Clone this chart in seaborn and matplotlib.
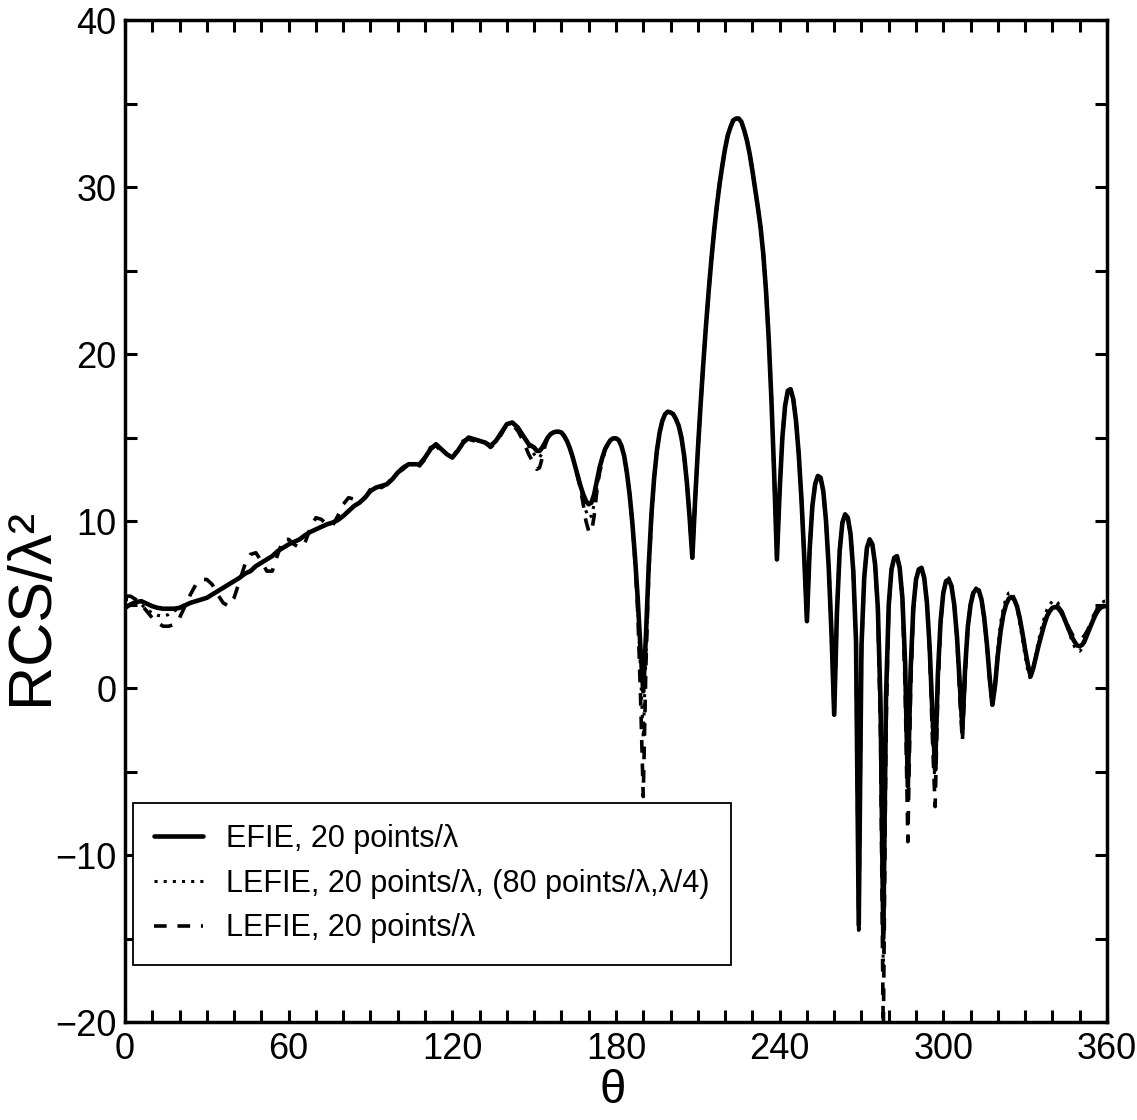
import matplotlib
matplotlib.use("Agg")
import matplotlib.pyplot as plt
import matplotlib.font_manager as fm
from matplotlib.ticker import MultipleLocator
import seaborn as sns

# ---------------- data ----------------
# sampling angles (deg): every 2 deg up to 148, then every 1 deg
theta = list(range(0, 150, 2)) + list(range(150, 361))

efie_20 = [
    # 0..148 step 2
    4.8, 5.0, 5.15, 5.2, 5.05, 4.9, 4.8, 4.75, 4.75, 4.75,
    4.8, 4.95, 5.1, 5.2, 5.3, 5.4, 5.6, 5.8, 6.0, 6.2,
    6.4, 6.6, 6.85, 7.0, 7.3, 7.5, 7.7, 7.9, 8.2, 8.4,
    8.6, 8.75, 8.9, 9.15, 9.35, 9.5, 9.65, 9.8, 9.9, 10.05,
    10.3, 10.6, 10.9, 11.1, 11.4, 11.8, 12.0, 12.1, 12.2, 12.5,
    12.9, 13.2, 13.4, 13.4, 13.4, 13.8, 14.3, 14.6, 14.3, 14.0,
    13.8, 14.2, 14.7, 15.0, 14.9, 14.8, 14.7, 14.5, 14.8, 15.3,
    15.8, 15.9, 15.6, 15.1, 14.6,
    # 150..360 step 1
    14.4, 14.2, 14.2, 14.4, 14.7, 15.0, 15.2, 15.3, 15.35, 15.35,
    15.3, 15.1, 14.8, 14.4, 13.9, 13.3, 12.7, 12.1, 11.6, 11.2,
    11.0, 11.1, 11.6, 12.4, 13.2, 13.8, 14.3, 14.6, 14.85, 14.95,
    14.95, 14.85, 14.5, 13.9, 12.9, 11.6, 9.9, 7.8, 5.3, 2.3,
    -0.2, 3.2, 7.3, 10.4, 12.6, 14.2, 15.3, 16.0, 16.4, 16.55,
    16.5, 16.4, 16.1, 15.7, 15.0, 13.9, 12.3, 10.2, 7.8, 11.2,
    14.2, 16.9, 19.4, 21.7, 23.8, 25.7, 27.4, 28.9, 30.2, 31.3,
    32.3, 33.1, 33.6, 34.0, 34.1, 34.1, 33.9, 33.4, 32.8, 32.0,
    31.0, 29.9, 28.8, 27.6, 26.0, 23.8, 20.9, 17.2, 12.8, 7.7,
    11.8, 15.0, 16.9, 17.8, 17.9, 17.3, 16.0, 14.0, 11.3, 7.9,
    4.0, 8.3, 10.9, 12.2, 12.7, 12.6, 11.8, 10.0, 7.2, 3.3,
    -1.6, 4.5, 8.2, 9.9, 10.4, 10.2, 9.2, 7.0, 2.8, -14.2,
    2.5, 6.6, 8.4, 8.9, 8.6, 7.4, 4.8, -1.0, -15.0, -0.5,
    5.0, 7.1, 7.8, 7.9, 7.2, 5.4, 1.5, -5.9, 1.0, 4.8,
    6.5, 7.1, 7.2, 6.6, 5.1, 2.4, -1.5, -4.9, 0.8, 4.0,
    5.7, 6.4, 6.5, 6.1, 5.0, 3.1, 0.3, -2.4, 1.2, 3.7,
    5.0, 5.7, 5.9, 5.85, 5.3, 4.2, 2.6, 0.6, -1.0, 0.2,
    2.0, 3.4, 4.4, 5.0, 5.35, 5.45, 5.3, 4.9, 4.2, 3.3,
    2.3, 1.4, 0.7, 1.2, 1.9, 2.6, 3.2, 3.8, 4.3, 4.6,
    4.8, 4.85, 4.8, 4.6, 4.3, 3.9, 3.5, 3.1, 2.8, 2.55,
    2.5, 2.6, 2.9, 3.3, 3.7, 4.1, 4.45, 4.7, 4.85, 4.9,
    4.9,
]

lefie_80 = [
    5.3, 5.3, 5.2, 5.0, 4.7, 4.5, 4.35, 4.3, 4.4, 4.6,
    4.8, 5.0, 5.1, 5.2, 5.3, 5.4, 5.6, 5.8, 6.0, 6.2,
    6.4, 6.6, 6.85, 7.0, 7.3, 7.5, 7.7, 7.9, 8.2, 8.4,
    8.6, 8.75, 8.9, 9.15, 9.35, 9.5, 9.65, 9.8, 9.9, 10.05,
    10.3, 10.6, 10.9, 11.1, 11.4, 11.8, 12.0, 12.1, 12.2, 12.5,
    12.9, 13.2, 13.4, 13.4, 13.4, 13.8, 14.3, 14.6, 14.3, 14.0,
    13.8, 14.2, 14.7, 15.0, 14.9, 14.8, 14.7, 14.5, 14.8, 15.3,
    15.8, 15.9, 15.6, 15.1, 14.5,
    14.0, 13.8, 13.8, 14.1, 14.6, 15.0, 15.2, 15.3, 15.35, 15.35,
    15.3, 15.1, 14.8, 14.4, 13.9, 13.3, 12.7, 12.0, 11.2, 10.6,
    10.2, 10.3, 11.0, 12.0, 13.0, 13.7, 14.3, 14.6, 14.85, 14.95,
    14.95, 14.85, 14.5, 13.9, 12.9, 11.6, 9.9, 7.6, 4.8, 1.0,
    -3.0, 2.0, 7.0, 10.3, 12.6, 14.2, 15.3, 16.0, 16.4, 16.55,
    16.5, 16.4, 16.1, 15.7, 15.0, 13.9, 12.3, 10.2, 7.8, 11.2,
    14.2, 16.9, 19.4, 21.7, 23.8, 25.7, 27.4, 28.9, 30.2, 31.3,
    32.3, 33.1, 33.6, 34.0, 34.1, 34.1, 33.9, 33.4, 32.8, 32.0,
    31.0, 29.9, 28.8, 27.6, 26.0, 23.8, 20.9, 17.2, 12.8, 7.7,
    11.8, 15.0, 16.9, 17.8, 17.9, 17.3, 16.0, 14.0, 11.3, 7.9,
    4.0, 8.3, 10.9, 12.2, 12.7, 12.6, 11.8, 10.0, 7.2, 3.3,
    -1.6, 4.5, 8.2, 9.9, 10.4, 10.2, 9.2, 7.0, 2.8, -14.2,
    2.5, 6.6, 8.4, 8.9, 8.6, 7.4, 4.8, -2.0, -17.0, -1.5,
    5.0, 7.1, 7.8, 7.9, 7.2, 5.4, 0.8, -7.0, 0.5, 4.8,
    6.5, 7.1, 7.2, 6.6, 5.1, 2.2, -2.5, -6.0, 0.2, 4.0,
    5.7, 6.5, 6.6, 6.1, 5.0, 3.0, -0.3, -3.0, 0.8, 3.7,
    5.1, 5.8, 6.0, 5.8, 5.2, 4.0, 2.4, 0.4, -1.2, 0.4,
    2.4, 3.9, 4.8, 5.4, 5.7, 5.75, 5.4, 4.8, 3.9, 2.9,
    1.9, 1.0, 0.5, 1.3, 2.1, 2.9, 3.6, 4.2, 4.7, 5.0,
    5.2, 5.25, 5.1, 4.8, 4.4, 3.9, 3.4, 2.9, 2.5, 2.25,
    2.2, 2.4, 2.8, 3.3, 3.8, 4.3, 4.7, 4.95, 5.1, 5.2,
    5.2,
]

lefie_20 = [
    5.5, 5.5, 5.3, 5.0, 4.6, 4.2, 3.9, 3.7, 3.7, 3.8,
    4.2, 4.9, 5.6, 6.2, 6.5, 6.5, 6.2, 5.6, 5.1, 4.9,
    5.4, 6.4, 7.4, 8.0, 8.1, 7.6, 7.0, 7.0, 8.0, 8.9,
    8.9, 8.6, 8.4, 8.7, 9.6, 10.2, 10.1, 9.8, 9.7, 10.3,
    11.0, 11.4, 11.3, 11.2, 11.4, 11.9, 12.1, 12.0, 12.2, 12.6,
    12.9, 13.1, 13.4, 13.6, 13.3, 13.7, 14.4, 14.5, 14.2, 14.0,
    13.8, 14.3, 14.8, 14.9, 14.8, 14.9, 14.7, 14.4, 14.7, 15.2,
    15.8, 15.8, 15.4, 14.8, 14.0,
    13.4, 13.1, 13.2, 13.8, 14.5, 15.0, 15.2, 15.3, 15.35, 15.35,
    15.3, 15.1, 14.8, 14.4, 13.9, 13.3, 12.6, 11.9, 11.0, 10.0,
    9.4, 9.3, 10.3, 11.8, 12.9, 13.6, 14.3, 14.6, 14.85, 14.95,
    14.95, 14.85, 14.5, 13.9, 12.9, 11.6, 9.9, 7.5, 4.5, -0.5,
    -6.5, 1.5, 6.8, 10.2, 12.6, 14.2, 15.3, 16.0, 16.4, 16.55,
    16.5, 16.4, 16.1, 15.7, 15.0, 13.9, 12.3, 10.2, 7.8, 11.2,
    14.2, 16.9, 19.4, 21.7, 23.8, 25.7, 27.4, 28.9, 30.2, 31.3,
    32.3, 33.1, 33.6, 34.0, 34.1, 34.1, 33.9, 33.4, 32.8, 32.0,
    31.0, 29.9, 28.8, 27.6, 26.0, 23.8, 20.9, 17.2, 12.8, 7.7,
    11.8, 15.0, 16.9, 17.8, 17.9, 17.3, 16.0, 14.0, 11.3, 7.9,
    4.0, 8.3, 10.9, 12.2, 12.7, 12.6, 11.8, 10.0, 7.2, 3.3,
    -1.6, 4.5, 8.2, 9.9, 10.4, 10.2, 9.2, 7.0, 2.5, -14.5,
    2.2, 6.6, 8.4, 8.9, 8.6, 7.4, 4.6, -3.0, -21.0, -2.5,
    4.8, 7.1, 7.8, 7.9, 7.2, 5.3, 0.0, -9.2, -0.2, 4.6,
    6.5, 7.1, 7.2, 6.6, 5.1, 2.1, -3.0, -7.1, -0.2, 3.8,
    5.7, 6.4, 6.5, 6.1, 5.0, 3.0, -0.5, -3.2, 0.7, 3.6,
    5.0, 5.7, 5.9, 5.85, 5.3, 4.2, 2.6, 0.5, -1.0, 0.2,
    2.0, 3.4, 4.4, 5.0, 5.35, 5.45, 5.3, 4.9, 4.2, 3.3,
    2.3, 1.4, 0.7, 1.2, 1.9, 2.6, 3.2, 3.8, 4.3, 4.7,
    4.9, 4.95, 4.9, 4.7, 4.4, 4.0, 3.6, 3.3, 3.0, 2.95,
    2.95, 3.0, 3.2, 3.5, 3.9, 4.3, 4.6, 4.85, 5.0, 5.1,
    5.2,
]

labels = [
    "EFIE, 20 points/λ",
    "LEFIE, 20 points/λ, (80 points/λ,λ/4)",
    "LEFIE, 20 points/λ",
]
x_ticks = [0, 60, 120, 180, 240, 300, 360]
y_ticks = [-20, -10, 0, 10, 20, 30, 40]

# ---------------- style ----------------
sns.set_theme(style="ticks")
names = {f.name for f in fm.fontManager.ttflist}
if "Liberation Sans Narrow" in names:
    narrow, small_scale = "Liberation Sans Narrow", 1.15
else:
    narrow, small_scale = "Liberation Sans", 1.0
regular = "Liberation Sans" if "Liberation Sans" in names else "DejaVu Sans"
plt.rcParams["font.family"] = [narrow, "DejaVu Sans"]
plt.rcParams["axes.unicode_minus"] = True

fig = plt.figure(figsize=(11.37, 11.20), dpi=100)
ax = fig.add_axes([0.1099, 0.0875, 0.8637, 0.8946])
ax.set_facecolor("white")
fig.patch.set_facecolor("white")

sns.lineplot(x=theta, y=efie_20, ax=ax, color="black", linewidth=3.3,
             label=labels[0], sort=False, estimator=None)
sns.lineplot(x=theta, y=lefie_80, ax=ax, color="black", linewidth=2.2,
             linestyle=(0, (1, 2)), label=labels[1], sort=False, estimator=None)
sns.lineplot(x=theta, y=lefie_20, ax=ax, color="black", linewidth=2.6,
             linestyle=(0, (3.5, 3)), label=labels[2], sort=False, estimator=None)

ax.set_xlim(0, 360)
ax.set_ylim(-20, 40)
ax.set_xticks(x_ticks)
ax.set_yticks(y_ticks)
ax.xaxis.set_minor_locator(MultipleLocator(10))
ax.yaxis.set_minor_locator(MultipleLocator(5))
tick_fs = 26 * small_scale
ax.tick_params(which="both", direction="in", top=True, right=True,
               length=8.5, width=2.2, color="black", labelsize=tick_fs,
               labelcolor="black")
ax.tick_params(axis="x", which="major", pad=7)
ax.tick_params(axis="y", which="major", pad=6)
for sp in ax.spines.values():
    sp.set_linewidth(2.5)
    sp.set_color("black")
    sp.set_visible(True)

ax.set_xlabel("θ", fontsize=34, family=[regular, "DejaVu Sans"], color="black")
ax.set_ylabel("RCS/λ²", fontsize=44, family=[regular, "DejaVu Sans"], color="black")
ax.xaxis.set_label_coords(0.497, -0.047)
ax.yaxis.set_label_coords(-0.066, 0.415)

leg = ax.legend(loc="lower left", bbox_to_anchor=(0.008, 0.057),
                borderaxespad=0, frameon=True, fancybox=False,
                edgecolor="black", framealpha=1, fontsize=22 * small_scale,
                handlelength=1.6, handletextpad=0.75, borderpad=0.7,
                labelspacing=0.48)
leg.get_frame().set_linewidth(1.3)
for t in leg.get_texts():
    t.set_color("black")

fig.savefig("out.png", dpi=100, facecolor="white")
